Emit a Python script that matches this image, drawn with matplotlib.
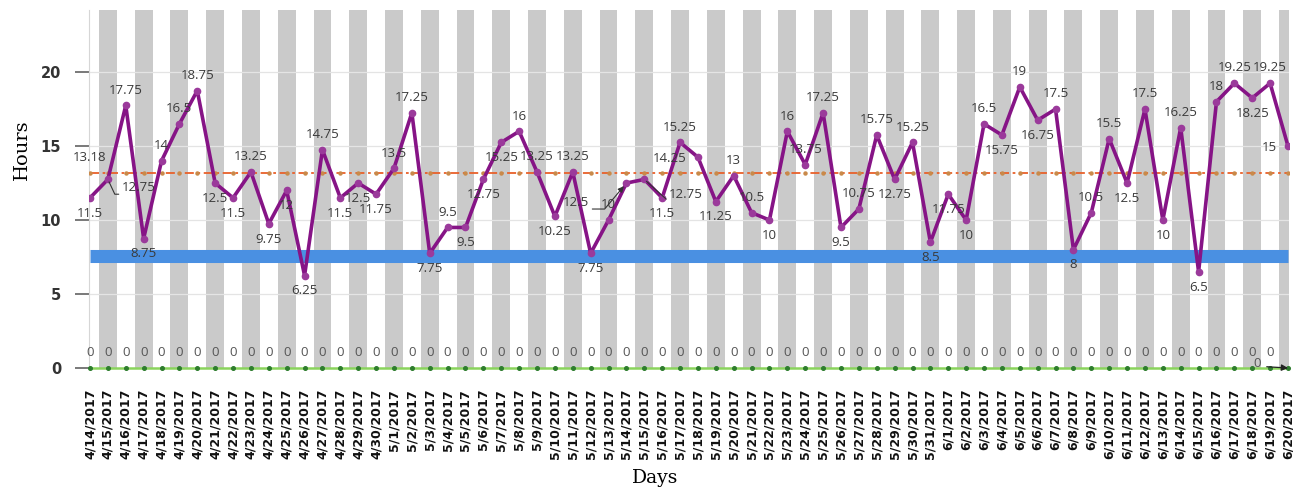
import matplotlib
matplotlib.use("Agg")
import matplotlib.pyplot as plt
import numpy as np

# ---------------- data ----------------
days = ["4/14/2017", "4/15/2017", "4/16/2017", "4/17/2017", "4/18/2017", "4/19/2017",
        "4/20/2017", "4/21/2017", "4/22/2017", "4/23/2017", "4/24/2017", "4/25/2017",
        "4/26/2017", "4/27/2017", "4/28/2017", "4/29/2017", "4/30/2017", "5/1/2017",
        "5/2/2017", "5/3/2017", "5/4/2017", "5/5/2017", "5/6/2017", "5/7/2017",
        "5/8/2017", "5/9/2017", "5/10/2017", "5/11/2017", "5/12/2017", "5/13/2017",
        "5/14/2017", "5/15/2017", "5/16/2017", "5/17/2017", "5/18/2017", "5/19/2017",
        "5/20/2017", "5/21/2017", "5/22/2017", "5/23/2017", "5/24/2017", "5/25/2017",
        "5/26/2017", "5/27/2017", "5/28/2017", "5/29/2017", "5/30/2017", "5/31/2017",
        "6/1/2017", "6/2/2017", "6/3/2017", "6/4/2017", "6/5/2017", "6/6/2017",
        "6/7/2017", "6/8/2017", "6/9/2017", "6/10/2017", "6/11/2017", "6/12/2017",
        "6/13/2017", "6/14/2017", "6/15/2017", "6/16/2017", "6/17/2017", "6/18/2017",
        "6/19/2017", "6/20/2017"]

hours = [11.5, 12.75, 17.75, 8.75, 14, 16.5, 18.75, 12.5, 11.5, 13.25,
         9.75, 12, 6.25, 14.75, 11.5, 12.5, 11.75, 13.5, 17.25, 7.75,
         9.5, 9.5, 12.75, 15.25, 16, 13.25, 10.25, 13.25, 7.75, 10,
         12.5, 12.75, 11.5, 15.25, 14.25, 11.25, 13, 10.5, 10, 16,
         13.75, 17.25, 9.5, 10.75, 15.75, 12.75, 15.25, 8.5, 11.75, 10,
         16.5, 15.75, 19, 16.75, 17.5, 8, 10.5, 15.5, 12.5, 17.5,
         10, 16.25, 6.5, 18, 19.25, 18.25, 19.25, 15]

zero_series = [0] * len(days)
mean_hours = 13.18
target_hours = 7.6
y_ticks = [0, 5, 10, 15, 20]

# label placement codes (a=above, b=below, l=left, c*=callout)
placement = ['b', 'c1', 'a', 'b', 'a', 'a', 'a', 'b', 'b', 'a',
             'b', 'b', 'b', 'a', 'b', 'b', 'b', 'a', 'a', 'b',
             'a', 'b', 'b', 'b', 'a', 'a', 'b', 'a', 'b', 'a',
             'c2', 'c3', 'b', 'a', 'l', 'b', 'a', 'a', 'b', 'a',
             'a', 'a', 'b', 'a', 'a', 'b', 'a', 'b', 'b', 'b',
             'a', 'b', 'a', 'b', 'a', 'b', 'a', 'a', 'b', 'a',
             'b', 'a', 'b', 'a', 'a', 'b', 'a', 'l']

# ---------------- figure ----------------
W, H = 1293, 490
fig = plt.figure(figsize=(W / 100, H / 100), dpi=100)
ax = fig.add_axes([89 / W, 1 - 368 / H, (1289 - 89) / W, (368 - 10) / H])

x = np.arange(len(days))
ax.set_xlim(-0.056, len(days) - 1 + 0.056)
ax.set_ylim(0, 24.2)

# alternating gray background columns
for i in x[1::2]:
    ax.axvspan(i - 0.5, i + 0.5, color="#cacaca", lw=0, zorder=0)

# horizontal gridlines
for t in y_ticks[1:]:
    ax.axhline(t, color="#e4e4e4", lw=0.9, zorder=0.5)

# target band
ax.plot(x, [target_hours] * len(x), color="#4a90e2", lw=9.4,
        solid_capstyle="butt", zorder=2)

# mean line
ax.plot(x, [mean_hours] * len(x), color="#e8602a", lw=1.3,
        ls=(0, (5, 2, 1.5, 2)), marker="o", ms=2.2, mfc="#c98a4a",
        mec="#c98a4a", zorder=3)

# zero series
ax.plot(x, zero_series, color="#8ad45c", lw=1.8, marker="o", ms=2.6,
        mfc="#2e7d2e", mec="#2e7d2e", zorder=3, clip_on=False)

# main series
ax.plot(x, hours, color="#861486", lw=2.6, marker="o", ms=4.5,
        mfc="#9b3a9b", mec="#9b3a9b", zorder=5)

lab_kw = dict(fontsize=9.5, family="Open Sans", color="#3a3a3a", zorder=6)

for i, (v, p) in enumerate(zip(hours, placement)):
    s = f"{v:g}"
    if p == "a":
        ax.annotate(s, (i, v), xytext=(0, 11), textcoords="offset points",
                    ha="center", va="center", **lab_kw)
    elif p == "b":
        ax.annotate(s, (i, v), xytext=(0, -11), textcoords="offset points",
                    ha="center", va="center", **lab_kw)
    elif p == "l":
        ax.annotate(s, (i, v), xytext=(-8, -1), textcoords="offset points",
                    ha="right", va="center", **lab_kw)
    elif p == "c1":
        ax.annotate(s, (i, v), xytext=(22, -6), textcoords="offset points",
                    ha="center", va="center",
                    arrowprops=dict(arrowstyle="-", color="#333333", lw=0.8,
                                    relpos=(1, 0), shrinkA=0, shrinkB=2,
                                    connectionstyle="angle,angleA=0,angleB=115,rad=0"),
                    **lab_kw)
    elif p == "c2":
        ax.annotate(s, (i, v), xytext=(-36, -14), textcoords="offset points",
                    ha="center", va="center",
                    arrowprops=dict(arrowstyle="-|>,head_length=0.35,head_width=0.18",
                                    color="#333333", lw=0.8,
                                    relpos=(0, 0), shrinkA=0, shrinkB=3,
                                    connectionstyle="angle,angleA=0,angleB=50,rad=0"),
                    **lab_kw)
    elif p == "c3":
        ax.annotate(s, (i, v), xytext=(30, -11), textcoords="offset points",
                    ha="center", va="center",
                    arrowprops=dict(arrowstyle="-", color="#333333", lw=0.8,
                                    relpos=(1, 0), shrinkA=0, shrinkB=2,
                                    connectionstyle="angle,angleA=0,angleB=138,rad=0"),
                    **lab_kw)

# mean label
ax.annotate(f"{mean_hours:.2f}", (0, mean_hours), xytext=(0, 11),
            textcoords="offset points", ha="center", va="center", **lab_kw)

# zero labels
zero_kw = dict(fontsize=9.5, family="Open Sans", color="#555555", zorder=6)
for i, v in enumerate(zero_series[:-1]):
    ax.annotate(f"{v:g}", (i, v), xytext=(0, 11), textcoords="offset points",
                ha="center", va="center", **zero_kw)
ax.annotate(f"{zero_series[-1]:g}", (x[-1], zero_series[-1]), xytext=(-22, 3),
            textcoords="offset points", ha="center", va="center",
            arrowprops=dict(arrowstyle="-|>,head_length=0.4,head_width=0.2",
                            color="#222222", lw=0.9, relpos=(1, 0.3),
                            shrinkA=2, shrinkB=0),
            annotation_clip=False, **zero_kw)

# axes styling
for sp in ["top", "right", "bottom"]:
    ax.spines[sp].set_visible(False)
ax.spines["left"].set_color("#d6d6d6")
ax.spines["left"].set_linewidth(0.8)

ax.set_yticks(y_ticks)
ax.set_yticklabels([str(t) for t in y_ticks], fontsize=10.5,
                   fontweight="bold", color="#333333", family="DejaVu Sans")
ax.tick_params(axis="y", length=10, width=1.1, color="#555555", pad=10)

ax.set_xticks(x)
ax.set_xticklabels(days, rotation=90, fontsize=9, fontweight="bold",
                   family="DejaVu Sans", color="#111111", va="top", ha="center")
ax.tick_params(axis="x", length=0, pad=15)

fig.text(22 / W, 1 - 150 / H, "Hours", rotation=90, ha="center", va="center",
         fontsize=14, family="DejaVu Serif")
fig.text(655 / W, 1 - 478 / H, "Days", ha="center", va="center",
         fontsize=13.5, family="DejaVu Serif")

fig.savefig("out.png", dpi=100)
